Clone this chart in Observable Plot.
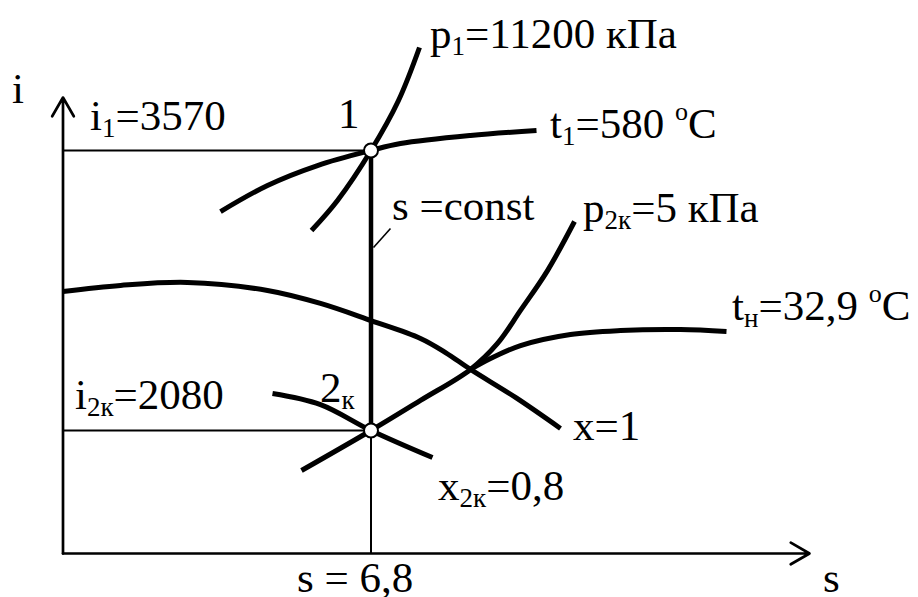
<!DOCTYPE html>
<html>
<head>
<meta charset="utf-8">
<script src="https://cdn.jsdelivr.net/npm/d3@7"></script>
<script src="https://cdn.jsdelivr.net/npm/@observablehq/plot@0.6"></script>
<style>
  html, body { margin: 0; padding: 0; background: #fff; }
  #chart svg { display: block; max-width: none; }
</style>
</head>
<body>
<div id="chart"></div>
<script>
// ---- data (s in kJ/(kg·K), i in kJ/kg; schematic i–s diagram) ----
const sAxisStart = 3.72, sAxisEnd = 11.185;
const iAxisStart = 1425.5, iAxisEnd = 3852;
const s1 = 6.8, i1 = 3570, i2k = 2080;

const p1Curve  = [[6.205,3144],[6.465,3304],[6.80,3570],[7.075,3836],[7.285,4118]];
const t1Curve  = [[5.295,3245],[5.765,3384],[6.265,3490],[6.80,3570],[7.095,3607],[7.795,3650],[8.455,3676]];
const x1Curve  = [[3.72,2820],[4.295,2852],[4.965,2868],[5.765,2825],[6.295,2756],[6.80,2665],[7.295,2570],[7.545,2495],[7.795,2405],[8.245,2256],[8.695,2091]];
const p2kCurve = [[6.105,1867],[6.80,2080],[7.295,2240],[7.795,2405],[8.065,2543],[8.295,2719],[8.565,2931],[8.835,3192]];
const tnCurve  = [[7.795,2405],[7.995,2463],[8.295,2532],[8.795,2591],[9.295,2612],[9.895,2617],[10.355,2607]];
const x2kCurve = [[5.815,2277],[6.295,2218],[6.80,2080],[7.415,1936]];
const sConst   = [[s1,i1],[s1,i2k]];
const statePoints = [[s1,i1],[s1,i2k]];
const leader = [[6.825,3054],[6.995,3155]];

// labels: markup "_{..}" = subscript, "^{..}" = superscript
const labelText = ["i","i_{1}=3570","1","p_{1}=11200 кПа","t_{1}=580 ^{o}C","s =const","p_{2к}=5 кПа","t_{н}=32,9 ^{o}C","x=1","x_{2к}=0,8","i_{2к}=2080","2_{к}","s = 6,8","s"];
const labelS = [3.215,3.995,6.475,7.395,8.595,7.015,8.925,10.415,8.825,7.475,3.845,6.295,6.065,11.325];
const labelI = [3820,3676,3687,4113,3634,3197.5,3187,2665,2027,1707.5,2192,2229,1220,1220];

// ---- build ----
const toObj = a => a.map(([s, i]) => ({s, i}));
const thick = {x: "s", y: "i", stroke: "black", strokeWidth: 5, curve: "catmull-rom", strokeLinecap: "butt", strokeLinejoin: "round"};

const plot = Plot.plot({
  width: 918, height: 597, margin: 0,
  style: {background: "white"},
  x: {domain: [3.095, 12.275], range: [0, 918], axis: null},
  y: {domain: [1191.3, 4368.2], range: [597, 0], axis: null},
  marks: [
    Plot.link([
      {x1: sAxisStart, y1: i1, x2: s1, y2: i1},
      {x1: sAxisStart, y1: i2k, x2: s1, y2: i2k},
      {x1: s1, y1: i2k, x2: s1, y2: iAxisStart}
    ], {x1: "x1", y1: "y1", x2: "x2", y2: "y2", stroke: "black", strokeWidth: 2}),
    Plot.link([{x1: leader[0][0], y1: leader[0][1], x2: leader[1][0], y2: leader[1][1]}],
      {x1: "x1", y1: "y1", x2: "x2", y2: "y2", stroke: "black", strokeWidth: 1.6}),
    Plot.arrow([
      {x1: sAxisStart, y1: iAxisStart, x2: sAxisStart, y2: iAxisEnd},
      {x1: sAxisStart, y1: iAxisStart, x2: sAxisEnd, y2: iAxisStart}
    ], {x1: "x1", y1: "y1", x2: "x2", y2: "y2", stroke: "black", strokeWidth: 2.7, headLength: 12, headAngle: 60}),
    Plot.line(toObj(p1Curve), thick),
    Plot.line(toObj(t1Curve), thick),
    Plot.line(toObj(x1Curve), thick),
    Plot.line(toObj(p2kCurve), thick),
    Plot.line(toObj(tnCurve), thick),
    Plot.line(toObj(x2kCurve), thick),
    Plot.line(toObj(sConst), {x: "s", y: "i", stroke: "black", strokeWidth: 4.5, strokeLinecap: "butt"}),
    Plot.dot(toObj(statePoints), {x: "s", y: "i", r: 7, fill: "white", stroke: "black", strokeWidth: 2})
  ]
});

document.getElementById("chart").appendChild(plot);

// ---- rich text labels placed through the plot's scales ----
const xs = plot.scale("x"), ys = plot.scale("y");
const svg = d3.select(plot);
const FONT = "Liberation Serif, DejaVu Serif, Noto Serif, Times New Roman, Times, serif";
const MAIN = 43, SUB = 27, SUP = 26;
labelText.forEach((txt, k) => {
  const t = svg.append("text")
    .attr("x", xs.apply(labelS[k]))
    .attr("y", ys.apply(labelI[k]))
    .attr("text-anchor", "start")
    .attr("font-family", FONT)
    .style("font-family", FONT)
    .style("font-size", MAIN + "px")
    .attr("fill", "black");
  const re = /([_^])\{([^}]*)\}|([^_^]+)/g;
  let m, shift = 0;
  while ((m = re.exec(txt)) !== null) {
    if (m[3] !== undefined) {
      t.append("tspan").attr("dy", -shift).style("font-family", FONT).style("font-size", MAIN + "px").text(m[3]);
      shift = 0;
    } else {
      const d = m[1] === "_" ? 7 : -18;
      t.append("tspan").attr("dy", d - shift).style("font-family", FONT).style("font-size", (m[1] === "_" ? SUB : SUP) + "px").text(m[2]);
      shift = d;
    }
  }
});
</script>
</body>
</html>
